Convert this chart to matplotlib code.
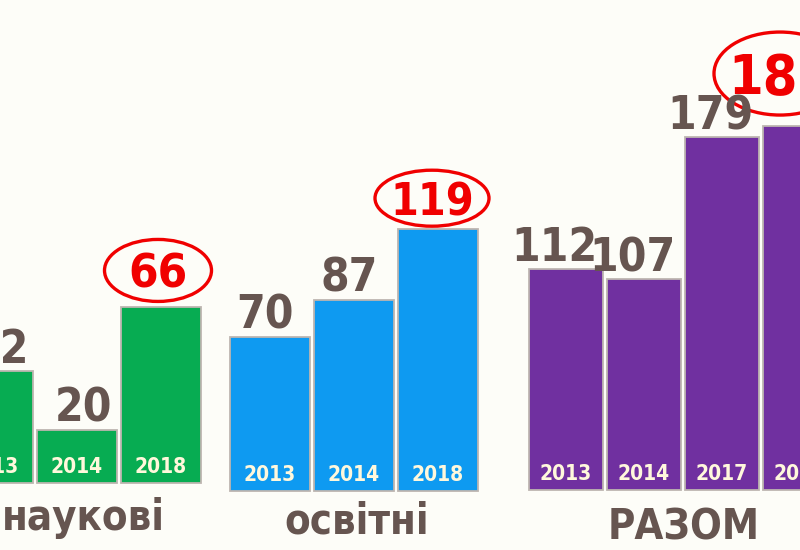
import matplotlib
matplotlib.use('Agg')
import matplotlib.pyplot as plt
from matplotlib.patches import Ellipse
from matplotlib.transforms import ScaledTranslation, offset_copy

# ---------------- data ----------------
group_names = ['наукові', 'освітні', 'РАЗОМ']
years_nauk = ['2013', '2014', '2018']
values_nauk = [42, 20, 66]
years_osv = ['2013', '2014', '2018']
values_osv = [70, 87, 119]
years_raz = ['2013', '2014', '2017', '2018']
values_raz = [112, 107, 179, 185]

# ---------------- style ----------------
W, H, DPI = 800, 550, 100
BG = '#fdfdf8'
GRAY = '#665550'
RED = '#f00000'
CREAM = '#fff8dc'
EDGE = '#bdb5b0'
FONT = dict(family='DejaVu Sans', weight='bold', stretch='condensed')

fig = plt.figure(figsize=(W / DPI, H / DPI), dpi=DPI, facecolor=BG)

groups = [
    dict(name=group_names[0], years=years_nauk, values=values_nauk, color='#07ac52',
         first=-7, step=84, base=483, scale=2.66,
         val_dx=7, red_size=34, ell=(107, 62), ell_dx=-3, ell_dy=37, name_dy=-47, name_dx=6),
    dict(name=group_names[1], years=years_osv, values=values_osv, color='#0e9af1',
         first=270, step=84, base=491, scale=2.2,
         val_dx=-5, red_size=32, ell=(114, 56), ell_dx=-6, ell_dy=31, name_dy=-42, name_dx=3),
    dict(name=group_names[2], years=years_raz, values=values_raz, color='#7030a0',
         first=566, step=78, base=490, scale=1.97,
         val_dx=-12, red_size=40, ell=(132, 83), ell_dx=-20, ell_dy=52, name_dy=-50, name_dx=1),
]

for g in groups:
    vals = g['values']
    n = len(vals)
    left_px = g['first'] - g['step'] / 2
    ax = fig.add_axes([left_px / W, (H - g['base']) / H, n * g['step'] / W, g['base'] / H])
    ax.set_xlim(-0.5, n - 0.5)
    ax.set_ylim(0, g['base'] / g['scale'])
    ax.axis('off')
    xs = list(range(n))
    ax.bar(xs, vals, width=0.95, color=g['color'], edgecolor=EDGE, linewidth=1.3, clip_on=False)

    for i, (yr, v) in enumerate(zip(g['years'], vals)):
        # year inside bar
        ax.text(i, 0, yr, transform=offset_copy(ax.transData, fig=fig, x=0, y=16, units='dots'),
                ha='center', va='center', color=CREAM, fontsize=15, **FONT)
        if i < n - 1:
            ax.text(i, v, str(v),
                    transform=offset_copy(ax.transData, fig=fig, x=g['val_dx'], y=8, units='dots'),
                    ha='center', va='baseline', color=GRAY, fontsize=33, **FONT)
        else:
            ew, eh = g['ell']
            tr = fig.dpi_scale_trans + ScaledTranslation(i, v, ax.transData)
            ell = Ellipse((g['ell_dx'] / DPI, g['ell_dy'] / DPI), ew / DPI, eh / DPI,
                          transform=tr, facecolor='none', edgecolor=RED, linewidth=2.4,
                          clip_on=False)
            ax.add_artist(ell)
            ax.text(i, v, str(v),
                    transform=offset_copy(ax.transData, fig=fig, x=g['ell_dx'], y=g['ell_dy'],
                                          units='dots'),
                    ha='center', va='center_baseline', color=RED, fontsize=g['red_size'], **FONT)

    ax.text((n - 1) / 2, 0, g['name'],
            transform=offset_copy(ax.transData, fig=fig, x=g['name_dx'], y=g['name_dy'], units='dots'),
            ha='center', va='baseline', color=GRAY, fontsize=30, **FONT)

fig.savefig('out.png', dpi=DPI, facecolor=BG)
